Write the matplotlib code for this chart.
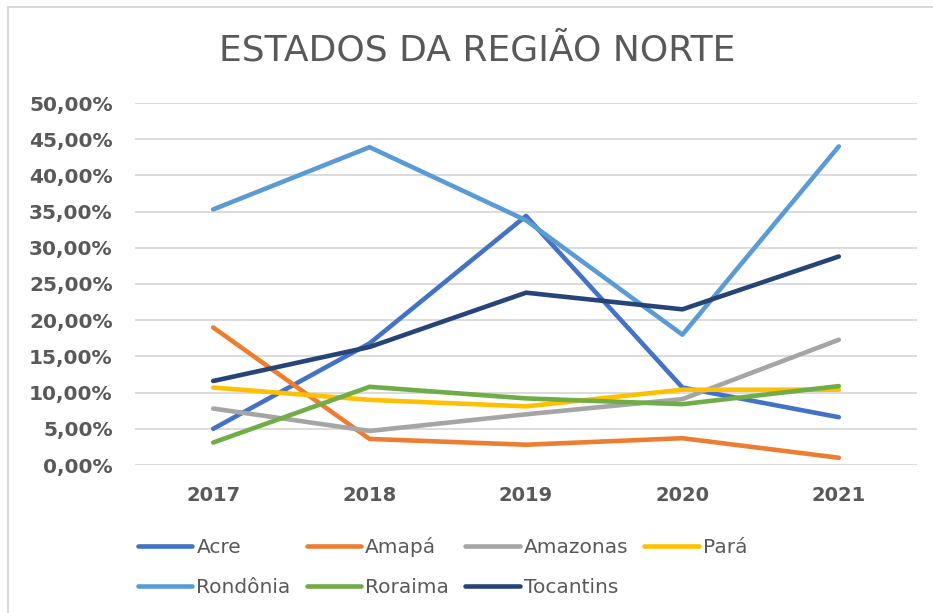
import matplotlib
matplotlib.use('Agg')
import matplotlib.pyplot as plt
from matplotlib.ticker import FuncFormatter, MultipleLocator
from matplotlib.patches import Rectangle

years = ["2017", "2018", "2019", "2020", "2021"]

# valores em %
acre = [5.0, 16.8, 34.4, 10.7, 6.6]
amapa = [19.0, 3.6, 2.8, 3.7, 1.0]
amazonas = [7.8, 4.7, 7.0, 9.1, 17.3]
para = [10.7, 9.0, 8.1, 10.4, 10.4]
rondonia = [35.3, 43.9, 33.8, 18.0, 44.0]
roraima = [3.1, 10.8, 9.2, 8.4, 10.9]
tocantins = [11.6, 16.3, 23.8, 21.5, 28.8]

series = [
    ("Acre", acre, "#4472C4"),
    ("Amapá", amapa, "#ED7D31"),
    ("Amazonas", amazonas, "#A5A5A5"),
    ("Pará", para, "#FFC000"),
    ("Rondônia", rondonia, "#5B9BD5"),
    ("Roraima", roraima, "#70AD47"),
    ("Tocantins", tocantins, "#264478"),
]

text_color = "#595959"
grid_color = "#D9D9D9"

fig = plt.figure(figsize=(9.33, 6.13), dpi=100)
ax = fig.add_axes([135 / 933, 1 - 465 / 613, 782 / 933, 362 / 613])

x = range(len(years))
lines = {}
for name, vals, color in series:
    ln, = ax.plot(x, vals, color=color, lw=3.3, solid_capstyle="round",
                  solid_joinstyle="round", label=name, zorder=3)
    lines[name] = ln

ax.set_xlim(-0.5, len(years) - 0.5)
ax.set_ylim(0, 50)
ax.yaxis.set_major_locator(MultipleLocator(5))
ax.yaxis.set_major_formatter(FuncFormatter(lambda v, _: f"{v:.2f}%".replace(".", ",")))
ax.set_xticks(list(x))
ax.set_xticklabels(years)
ax.grid(axis="y", color=grid_color, lw=1.3, zorder=0)
ax.set_axisbelow(True)
for s in ax.spines.values():
    s.set_visible(False)
ax.tick_params(axis="y", length=0, pad=16, labelsize=14.5, labelcolor=text_color)
ax.tick_params(axis="x", length=0, pad=15, labelsize=14, labelcolor=text_color)
for lbl in ax.get_xticklabels() + ax.get_yticklabels():
    lbl.set_fontweight("bold")

fig.text(0.511, 0.918, "ESTADOS DA REGIÃO NORTE", ha="center", va="center",
         fontsize=26, color=text_color)

# legenda em linhas (ordem por linha como no Excel)
order = ["Acre", "Rondônia", "Amapá", "Roraima", "Amazonas", "Tocantins", "Pará"]
fig.legend([lines[n] for n in order], order, ncol=4, frameon=False,
           loc="upper left", bbox_to_anchor=(138 / 933, 1 - 537 / 613),
           borderaxespad=0, borderpad=0, fontsize=14.5, labelcolor=text_color,
           handlelength=2.7, handletextpad=0.2, columnspacing=0.8,
           labelspacing=1.05)

fig.patches.append(Rectangle((8 / 933, -0.5), 2.0, 1.5 - 7 / 613,
                             transform=fig.transFigure, fill=False,
                             edgecolor=grid_color, lw=1.5))

fig.savefig("out.png", dpi=100)
